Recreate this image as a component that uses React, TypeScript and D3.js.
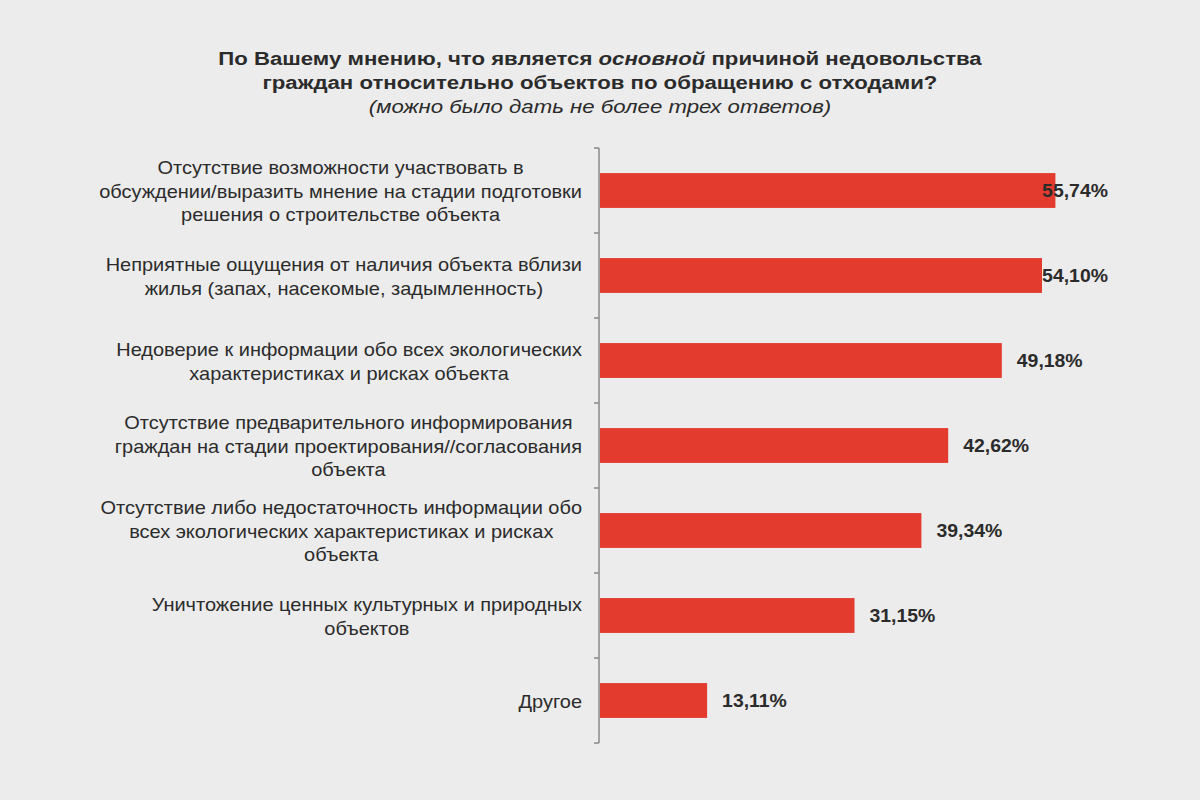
import React, { useEffect, useRef } from 'react';
import * as d3 from 'd3';

// Survey answers (top to bottom) and their shares, %
const categories: string[][] = [
  ['Отсутствие возможности участвовать в', 'обсуждении/выразить мнение на стадии подготовки', 'решения о строительстве объекта'],
  ['Неприятные ощущения от наличия объекта вблизи', 'жилья (запах, насекомые, задымленность)'],
  ['Недоверие к информации обо всех экологических', 'характеристиках и рисках объекта'],
  ['Отсутствие предварительного информирования', 'граждан на стадии проектирования//согласования', 'объекта'],
  ['Отсутствие либо недостаточность информации обо', 'всех экологических характеристиках и рисках', 'объекта'],
  ['Уничтожение ценных культурных и природных', 'объектов'],
  ['Другое'],
];
const values: number[] = [55.74, 54.1, 49.18, 42.62, 39.34, 31.15, 13.11];

const W = 1200;
const H = 800;
const BAR = '#e33b2e';
const INK = '#2b2b2b';
const FONT = '"Liberation Sans", Arial, sans-serif';
const SX = 1.11; // the scan is a bit wider than tall

const App: React.FC = () => {
  const svgRef = useRef<SVGSVGElement>(null);

  useEffect(() => {
    if (!svgRef.current) return;
    const svg = d3.select(svgRef.current);
    svg.selectAll('*').remove();

    svg.append('rect').attr('width', W).attr('height', H).attr('fill', '#ececec');

    // title
    const title = svg.append('g').attr('font-family', FONT).attr('fill', INK).attr('text-anchor', 'middle')
      .attr('transform', 'translate(600,0) scale(1.2,1)');
    const t1 = title.append('text').attr('x', 0).attr('y', 65).attr('font-size', 18.5).attr('font-weight', 'bold');
    t1.append('tspan').text('По Вашему мнению, что является ');
    t1.append('tspan').attr('font-style', 'italic').text('основной');
    t1.append('tspan').text(' причиной недовольства');
    title.append('text').attr('x', 0).attr('y', 89).attr('font-size', 18.5).attr('font-weight', 'bold')
      .text('граждан относительно объектов по обращению с отходами?');
    title.append('text').attr('x', 0).attr('y', 113).attr('font-size', 18.5).attr('font-style', 'italic')
      .text('(можно было дать не более трех ответов)');

    const x = d3.scaleLinear().domain([0, 60]).range([600, 600 + 60 * 8.17]);
    const y = d3.scaleBand<number>().domain(d3.range(values.length)).range([148, 743]).paddingInner(0.59).paddingOuter(0.295);
    const step = y.step();

    // bars
    svg.append('g').selectAll('rect').data(values).join('rect')
      .attr('x', x(0))
      .attr('y', (_, i) => y(i)!)
      .attr('width', d => x(d) - x(0))
      .attr('height', y.bandwidth())
      .attr('fill', BAR);

    // axis with ticks at band boundaries
    const axis = svg.append('g').attr('stroke', '#8a8a8a').attr('stroke-width', 1.5);
    axis.append('line').attr('x1', 599).attr('x2', 599).attr('y1', 148).attr('y2', 743);
    axis.selectAll('line.tick').data(d3.range(values.length + 1)).join('line')
      .attr('class', 'tick')
      .attr('x1', 594).attr('x2', 599)
      .attr('y1', i => 148 + i * step).attr('y2', i => 148 + i * step);

    // category labels: block right aligned, lines centred inside it
    const lineH = 23.5;
    categories.forEach((lines, i) => {
      const cy = y(i)! + y.bandwidth() / 2;
      const g = svg.append('g').attr('font-family', FONT).attr('font-size', 18).attr('fill', INK).attr('text-anchor', 'middle')
        .attr('transform', `translate(582,0) scale(${SX},1)`);
      const texts = lines.map((ln, k) =>
        g.append('text').attr('y', cy + (k - (lines.length - 1) / 2) * lineH + 7.5).text(ln));
      const maxW = d3.max(texts, t => (t.node() as SVGTextElement).getComputedTextLength()) ?? 0;
      texts.forEach(t => t.attr('x', -maxW / 2));
    });

    // value labels
    const fmt = (v: number) => v.toFixed(2).replace('.', ',') + '%';
    const lbl = svg.append('g').attr('font-family', FONT).attr('font-size', 17.5).attr('font-weight', 'bold').attr('fill', INK);
    values.forEach((v, i) => {
      const t = lbl.append('text').text(fmt(v));
      const w = (t.node() as SVGTextElement).getComputedTextLength() * SX;
      const tx = Math.min(x(v) + 15, 1108 - w);
      t.attr('transform', `translate(${tx},${y(i)! + y.bandwidth() / 2 + 6.5}) scale(${SX},1)`);
    });
  }, []);

  return (
    <svg ref={svgRef} width={W} height={H} style={{ position: 'fixed', left: 0, top: 0 }} />
  );
};

export default App;
